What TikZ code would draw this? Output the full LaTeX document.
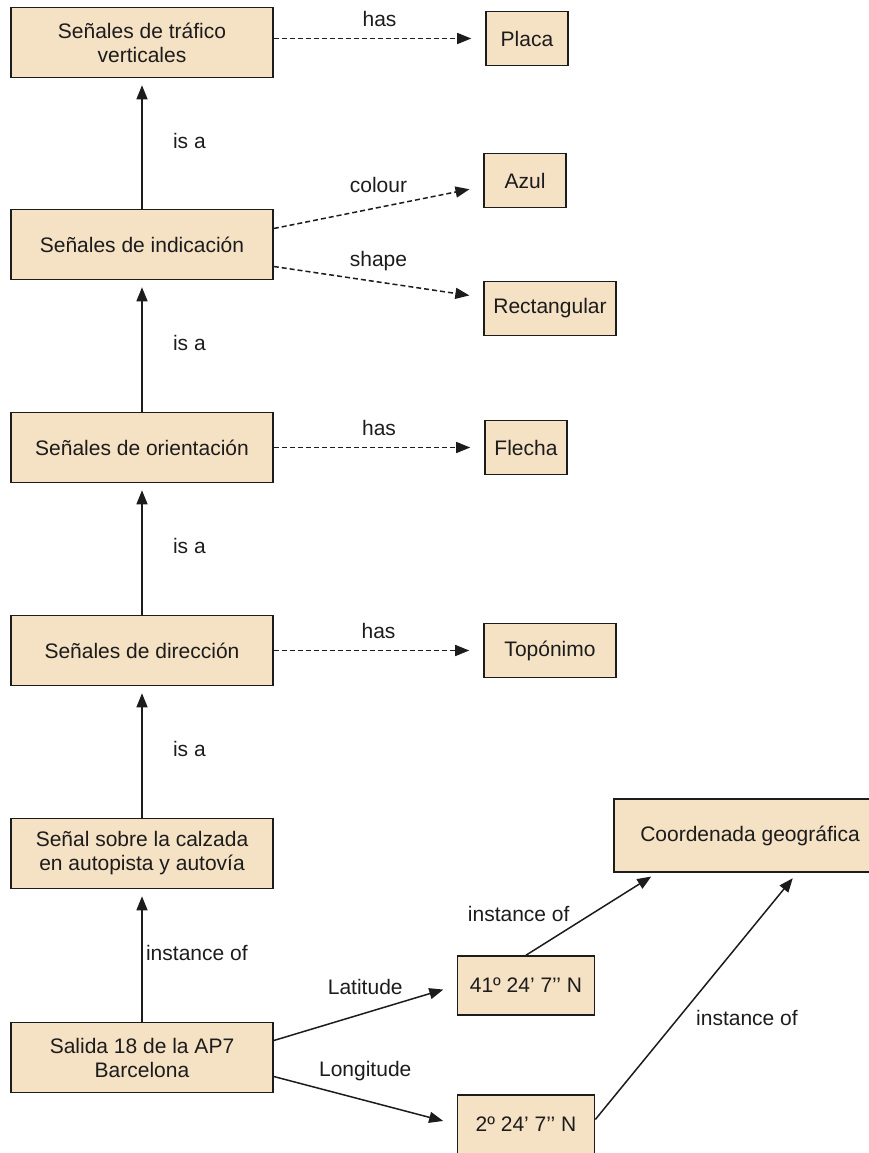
\documentclass[tikz,border=0pt]{standalone}
\usepackage{fontspec}
\setmainfont{Liberation Sans}
\usepackage{tikz}
\usetikzlibrary{positioning}
\usetikzlibrary{arrows.meta}
\definecolor{conceptfill}{HTML}{F5E1C3}
\definecolor{ink}{HTML}{1C1C1C}
\tikzstyle{concept} = [draw=ink, fill=conceptfill, rectangle, line width=1.6pt, minimum height=70pt, minimum width=262pt, align=center]
\tikzstyle{value} = [draw=ink, fill=conceptfill, rectangle, line width=1.6pt, minimum height=54pt, minimum width=82pt, align=center]
\tikzstyle{isa} = [draw=ink, line width=1.5pt, -{Triangle[length=14pt,width=11pt]}, shorten >=7pt]
\tikzstyle{prop} = [isa, dash pattern=on 5pt off 3pt, shorten >=14pt]
\tikzstyle{lbl} = [text=ink]

\begin{document}
\begin{tikzpicture}[node distance=203pt, font=\fontsize{21}{24}\selectfont, text=ink]
    \useasboundingbox (0pt,0pt) rectangle (868pt,-1153pt);
    \node [concept] (salida) at (142pt,-1057.5pt) {Salida 18 de la AP7\\Barcelona};
    \node [concept, above of=salida, node distance=204pt] (calzada) {Señal sobre la calzada\\en autopista y autovía};
    \node [concept, above of=calzada] (direccion) {Señales de dirección};
    \node [concept, above of=direccion] (orientacion) {Señales de orientación};
    \node [concept, above of=orientacion] (indicacion) {Señales de indicación};
    \node [concept, above of=indicacion, node distance=202pt] (verticales) {Señales de tráfico\\verticales};

    \node [value, right of=verticales, node distance=385pt, yshift=4pt] (placa) {Placa};
    \node [value, right of=indicacion, node distance=383pt, yshift=64pt] (azul) {Azul};
    \node [value, minimum width=132pt, right of=indicacion, node distance=408pt, yshift=-64pt] (rectangular) {Rectangular};
    \node [value, right of=orientacion, node distance=384pt] (flecha) {Flecha};
    \node [value, minimum width=132pt, right of=direccion, node distance=408pt] (toponimo) {Topónimo};
    \node [value, minimum width=137pt, minimum height=59pt, right of=salida, node distance=384pt, yshift=72pt] (latitud) {41º 24’ 7’’ N};
    \node [value, minimum width=137pt, minimum height=59pt, right of=salida, node distance=384pt, yshift=-67pt] (longitud) {2º 24’ 7’’ N};
    \node [value, minimum width=272pt, minimum height=73pt, right of=calzada, node distance=608pt, yshift=18pt] (coordenada) {Coordenada geográfica};

    \draw [isa] (salida) -- node [lbl, right, pos=0.52] {instance of} (calzada);
    \draw [isa] (calzada) -- node [lbl, right, pos=0.52, xshift=27pt] {is a} (direccion);
    \draw [isa] (direccion) -- node [lbl, right, pos=0.52, xshift=27pt] {is a} (orientacion);
    \draw [isa] (orientacion) -- node [lbl, right, pos=0.52, xshift=27pt] {is a} (indicacion);
    \draw [isa] (indicacion) -- node [lbl, right, pos=0.52, xshift=27pt] {is a} (verticales);

    \draw [prop] (verticales.east |- placa.west) -- node [lbl, above=8pt] {has} (placa.west);
    \draw [prop] ([yshift=16pt]indicacion.east) -- node [lbl, above=11pt] {colour} ([yshift=-6pt]azul.west);
    \draw [prop] ([yshift=-22pt]indicacion.east) -- node [lbl, above=7pt] {shape} ([yshift=11pt]rectangular.west);
    \draw [prop] (orientacion.east |- flecha.west) -- node [lbl, above=8pt] {has} (flecha.west);
    \draw [prop] (direccion.east |- toponimo.west) -- node [lbl, above=8pt] {has} (toponimo.west);

    \draw [isa, shorten >=14pt] ([yshift=17pt]salida.east) -- node [lbl, above=14pt] {Latitude} (latitud.west);
    \draw [isa, shorten >=14pt] ([yshift=-19pt]salida.east) -- node [lbl, above=16pt] {Longitude} (longitud.west);
    \draw [isa] (latitud.north) -- node [lbl, left, xshift=-18pt] {instance of} ([xshift=44pt]coordenada.south west);
    \draw [isa] ([yshift=5pt]longitud.east) -- node [lbl, right, pos=0.41, xshift=14pt] {instance of} ([xshift=184pt]coordenada.south west);
\end{tikzpicture}
\end{document}
